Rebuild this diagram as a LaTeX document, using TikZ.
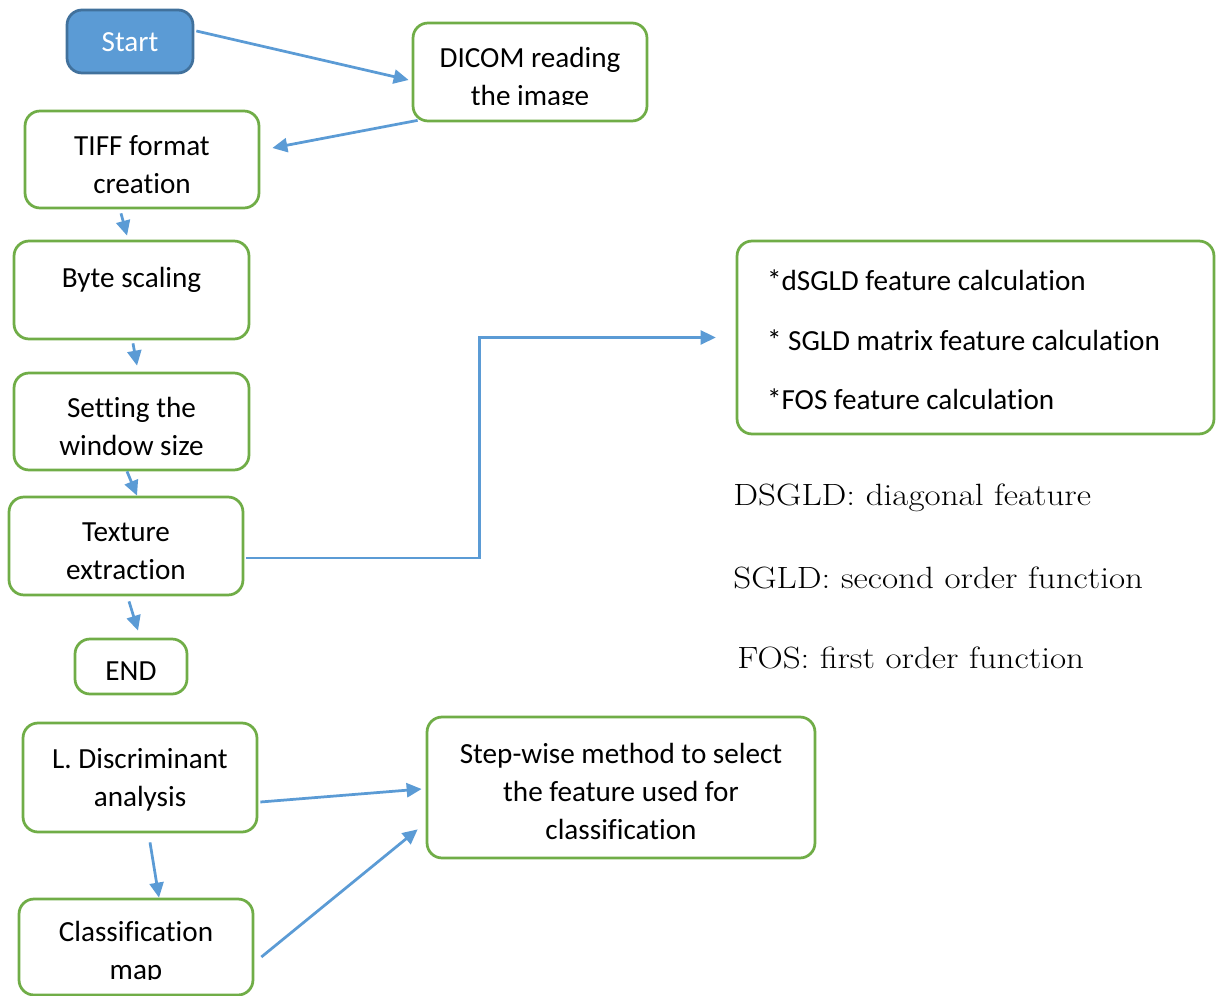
\documentclass[tikz,border=0pt]{standalone}
\usepackage{fontspec}
\usepackage{graphicx}
\newfontfamily\boxfont{Carlito}[Ligatures=NoCommon]
\usetikzlibrary{arrows.meta,calc}
\definecolor{boxgreen}{HTML}{70AD47}
\definecolor{flowblue}{HTML}{5B9BD5}
\definecolor{startedge}{HTML}{41719C}
\begin{document}
\begin{tikzpicture}[x=0.02cm,y=-0.02cm,
  box/.style={draw=boxgreen, line width=0.055cm, rounded corners=0.3cm, fill=white, inner sep=0pt},
  startbox/.style={box, draw=startedge, fill=flowblue},
  boxtext/.style={align=center, inner sep=0pt, font=\boxfont\fontsize{16.6}{21.5}\selectfont},
  flow/.style={draw=flowblue, line width=0.055cm, -{Triangle[length=0.3cm,width=0.28cm]}},
  legend/.style={anchor=west, inner sep=0pt, font=\fontsize{17.5}{20}\selectfont}]
\useasboundingbox (0,0) rectangle (1219,996);

% main flow boxes
\node[startbox, minimum width=2.52cm, minimum height=1.26cm] (start) at (130,41.5) {};
\node[box, minimum width=4.68cm, minimum height=1.96cm] (dicom) at (530,72) {};
\node[box, minimum width=4.68cm, minimum height=1.94cm] (tiff) at (142,159.5) {};
\node[box, minimum width=4.7cm, minimum height=1.96cm] (byte) at (131.5,290) {};
\node[box, minimum width=4.7cm, minimum height=1.94cm] (window) at (131.5,421.5) {};
\node[box, minimum width=4.68cm, minimum height=1.96cm] (texture) at (126,546) {};
\node[box, minimum width=2.24cm, minimum height=1.1cm] (end) at (131,666.5) {};
\node[box, minimum width=9.54cm, minimum height=3.86cm] (features) at (975.5,337.5) {};
\node[box, minimum width=4.68cm, minimum height=2.18cm] (lda) at (140,777.5) {};
\node[box, minimum width=4.68cm, minimum height=1.92cm] (cmap) at (136,947) {};
\node[box, minimum width=7.76cm, minimum height=2.82cm] (step) at (621,787.5) {};

% box captions (text overflowing the box's text area is cut off)
\node[boxtext, text=white] (start-t) at ($(start)+(0,1)$) {Start};
\begin{scope}
  \clip ($(dicom.north west)+(5,5)$) rectangle ($(dicom.east)+(-5,33)$);
  \node[boxtext] (dicom-t) at ($(dicom)+(0,7)$) {DICOM reading\\the image};
\end{scope}
\node[boxtext] (tiff-t) at ($(tiff)+(0,5)$) {TIFF format\\creation};
\node[boxtext] (byte-t) at ($(byte)+(0,-10)$) {Byte scaling};
\node[boxtext] (window-t) at ($(window)+(0,5)$) {Setting the\\window size};
\node[boxtext] (texture-t) at ($(texture)+(0,5.5)$) {Texture\\extraction};
\node[boxtext] (end-t) at ($(end)+(0,5)$) {END};
\node[boxtext, align=left, anchor=west, font=\boxfont\fontsize{16.6}{34}\selectfont]
  (features-t) at ($(features.west)+(31,2.5)$)
  {*dSGLD feature calculation\\\relax* SGLD matrix feature calculation\\\relax*FOS feature calculation};
\node[boxtext] (lda-t) at ($(lda)+(0,2)$) {L. Discriminant\\analysis};
\begin{scope}
  \clip ($(cmap.north west)+(5,5)$) rectangle ($(cmap.east)+(-5,32)$);
  \node[boxtext] (cmap-t) at ($(cmap)+(0,6)$) {Classification\\map};
\end{scope}
\node[boxtext] (step-t) at ($(step)+(0,4)$) {Step-wise method to select\\the feature used for\\classification};

% abbreviations
\node[legend] (lg1) at (733,498) {\scalebox{1.14}[1]{DSGLD: diagonal feature}};
\node[legend] (lg2) at (733,578) {\scalebox{1.14}[1]{SGLD: second order function}};
\node[legend] (lg3) at (737,658) {\scalebox{1.14}[1]{FOS: first order function}};

% connectors
\draw[flow] ($(start.east)+(2,-10.5)$) -- ($(dicom.west)+(-3,8)$);
\draw[flow] ($(dicom.south west)+(6,-2)$) -- ($(tiff.east)+(12,-11.5)$);
\draw[flow] ($(tiff.south)+(-21,4)$) -- ($(byte.north)+(-4.5,-4)$);
\draw[flow] ($(byte.south)+(1.5,3)$) -- ($(window.north)+(5.5,-6)$);
\draw[flow] ($(window.south)+(-4.5,0)$) -- ($(texture.north)+(11,0)$);
\draw[flow] ($(texture.south)+(3,5)$) -- ($(end.north)+(7,-7)$);
\draw[flow] ($(texture.east)+(2,12)$) -| ($(features.west)+(-256,0)$) -- ($(features.west)+(-20,0)$);
\draw[flow] ($(lda.south)+(10,9)$) -- ($(cmap.north)+(23,0)$);
\draw[flow] ($(lda.east)+(2,24.5)$) -- ($(step.west)+(-4,1.5)$);
\draw[flow] ($(cmap.east)+(7,10)$) -- ($(step.south west)+(-8,-30)$);
\end{tikzpicture}
\end{document}
